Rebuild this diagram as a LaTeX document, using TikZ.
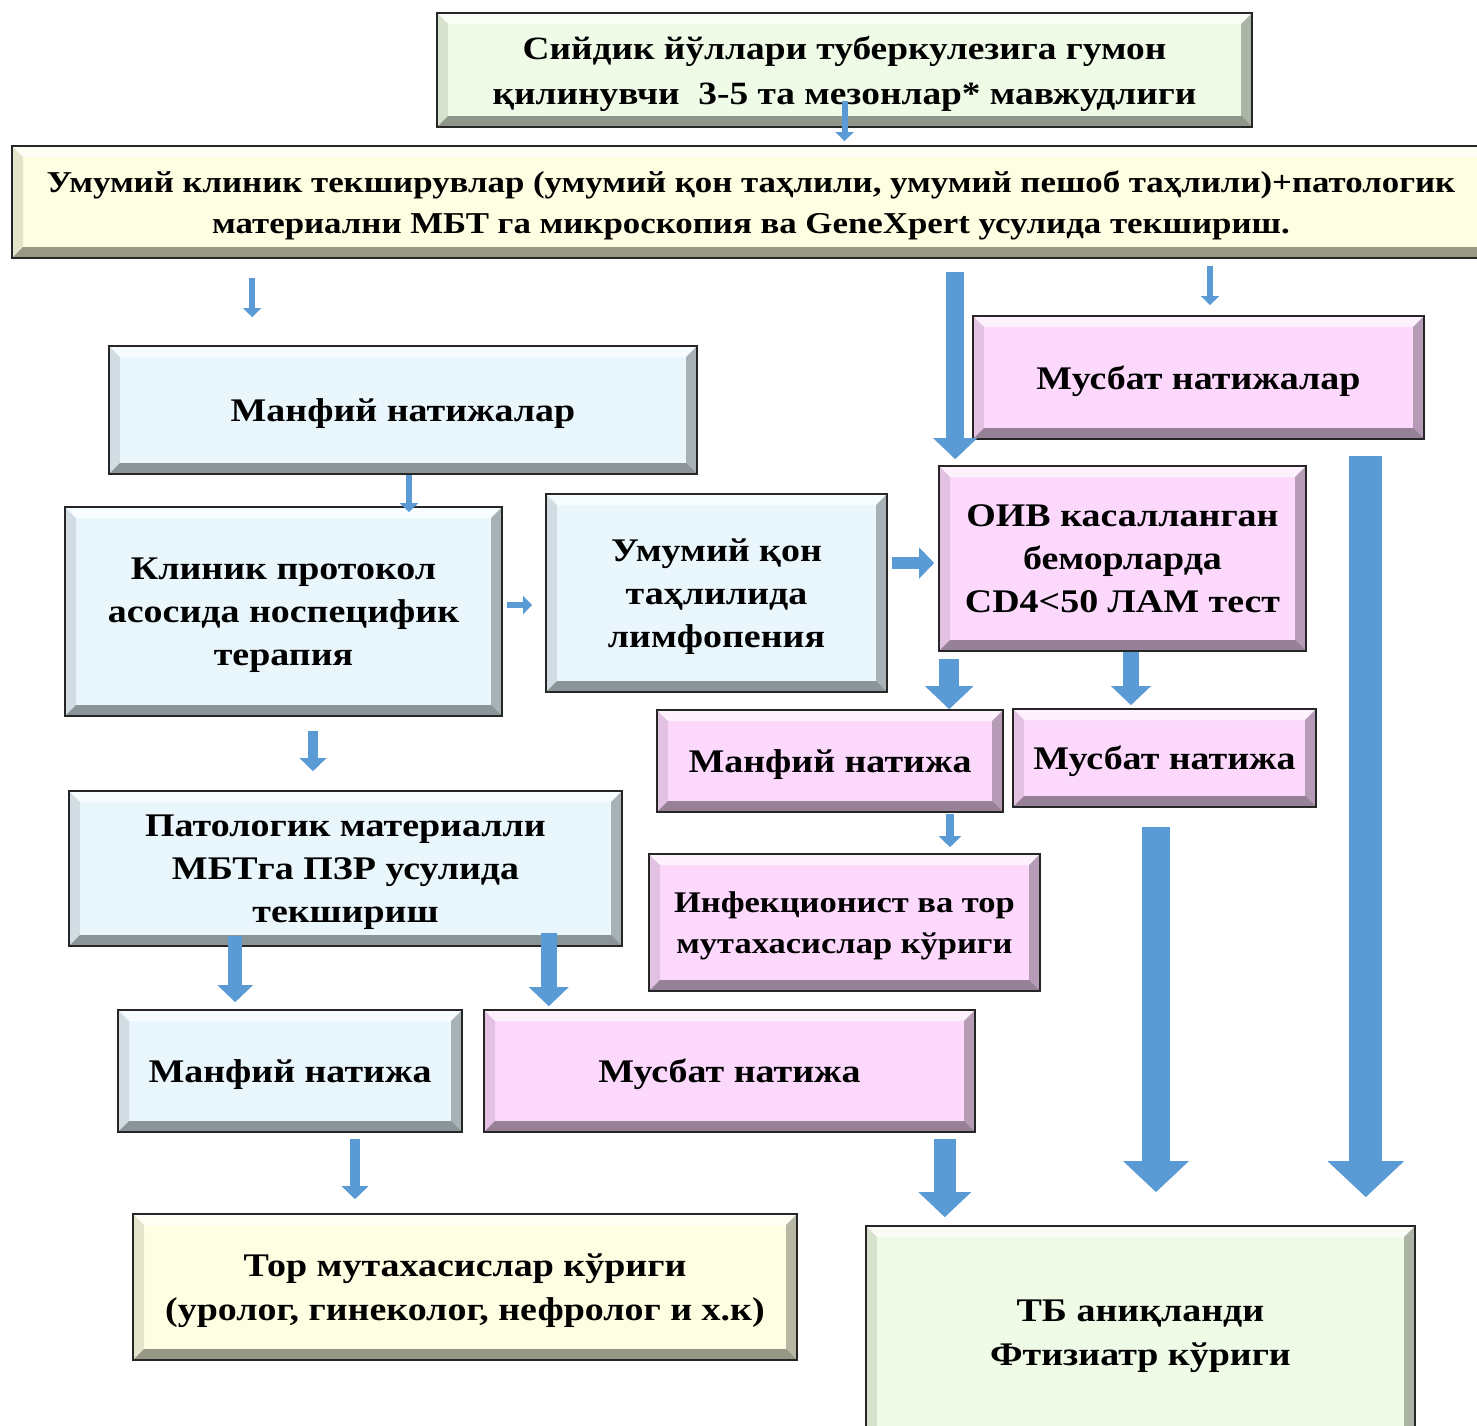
\documentclass[tikz,border=0pt]{standalone}
\usepackage{fontspec}
\setmainfont[FakeStretch=1.15]{Liberation Serif}
\usepackage{tikz}
\usepackage{xcolor}
\usetikzlibrary{
    arrows.meta,
    calc,
    positioning
}
\definecolor{grnfill}{HTML}{EFFBE6}
\definecolor{ylwfill}{HTML}{FEFEE2}
\definecolor{blufill}{HTML}{E9F7FD}
\definecolor{pnkfill}{HTML}{FDD8FD}
\definecolor{arrblue}{HTML}{5B9BD5}
\tikzset{
    bevel/.style={path picture={
        \fill[white, opacity=.65] (path picture bounding box.north west) -- (path picture bounding box.north east) -- ([xshift=-11pt, yshift=-11pt]path picture bounding box.north east) -- ([xshift=11pt, yshift=-11pt]path picture bounding box.north west) -- cycle;
        \fill[black, opacity=.1] (path picture bounding box.north west) -- ([xshift=11pt, yshift=-11pt]path picture bounding box.north west) -- ([xshift=11pt, yshift=11pt]path picture bounding box.south west) -- (path picture bounding box.south west) -- cycle;
        \fill[black, opacity=.28] (path picture bounding box.north east) -- (path picture bounding box.south east) -- ([xshift=-11pt, yshift=11pt]path picture bounding box.south east) -- ([xshift=-11pt, yshift=-11pt]path picture bounding box.north east) -- cycle;
        \fill[black, opacity=.4] (path picture bounding box.south west) -- (path picture bounding box.south east) -- ([xshift=-11pt, yshift=11pt]path picture bounding box.south east) -- ([xshift=11pt, yshift=11pt]path picture bounding box.south west) -- cycle;
    }},
    fs/.style 2 args={font=\bfseries\fontsize{#1}{#2}\selectfont},
    box/.style={draw=black!85, line width=1.6pt, bevel, align=center, inner sep=0pt, text depth=0pt, fs={33}{43}},
    blkarr/.style={draw=arrblue, line width=#1, -{Triangle[width=5pt 2.1, length=3pt 1]}}
}
\begin{document}
\begin{tikzpicture}[x=1pt, y=-1pt]
                        \useasboundingbox (0,0) rectangle (1477,1425);
                        \node[box, fill=grnfill, minimum width=815pt, minimum height=114pt, fs={32.5}{45}] (susp) at (844.5, 70) {Сийдик йўллари туберкулезига гумон\\қилинувчи\ \ 3-5 та мезонлар* мавжудлиги};
                        \node[box, fill=ylwfill, minimum width=1478pt, minimum height=112pt, fs={30.3}{41}] (exam) at (751, 202) {Умумий клиник текширувлар (умумий қон таҳлили, умумий пешоб таҳлили)+патологик\\материални МБТ га микроскопия ва GeneXpert усулида текшириш.};
                        \node[box, fill=blufill, minimum width=588pt, minimum height=128pt] (negall) at (403, 410) {Манфий натижалар};
                        \node[box, fill=pnkfill, minimum width=451pt, minimum height=123pt] (posall) at (1198.5, 377.5) {Мусбат натижалар};
                        \node[box, fill=blufill, minimum width=437pt, minimum height=209pt] (clin) at (283.5, 611.5) {Клиник протокол\\асосида носпецифик\\терапия};
                        \node[box, fill=blufill, minimum width=341pt, minimum height=198pt] (lymph) at (716.5, 593) {Умумий қон\\таҳлилида\\лимфопения};
                        \node[box, fill=pnkfill, minimum width=367pt, minimum height=185pt] (hiv) at (1122.5, 558.5) {ОИВ касалланган\\беморларда\\CD4<50 ЛАМ тест};
                        \node[box, fill=pnkfill, minimum width=346pt, minimum height=102pt] (hivneg) at (830, 761) {Манфий натижа};
                        \node[box, fill=pnkfill, minimum width=303pt, minimum height=98pt] (hivpos) at (1164.5, 758) {Мусбат натижа};
                        \node[box, fill=pnkfill, minimum width=391pt, minimum height=137pt, fs={30}{41}] (infect) at (844.5, 922.5) {Инфекционист ва тор\\мутахасислар кўриги};
                        \node[box, fill=blufill, minimum width=553pt, minimum height=155pt] (pcr) at (345.5, 868.5) {Патологик материалли\\МБТга ПЗР усулида\\текшириш};
                        \node[box, fill=blufill, minimum width=344pt, minimum height=122pt] (pcrneg) at (290, 1071) {Манфий натижа};
                        \node[box, fill=pnkfill, minimum width=491pt, minimum height=122pt] (pcrpos) at (729.5, 1071) {Мусбат натижа};
                        \node[box, fill=ylwfill, minimum width=664pt, minimum height=146pt, fs={33}{44}] (spec) at (465, 1287) {Тор мутахасислар кўриги\\(уролог, гинеколог, нефролог и х.к)};
                        \node[box, fill=grnfill, minimum width=549pt, minimum height=214pt, fs={33}{44}] (tb) at (1140.5, 1333) {ТБ аниқланди\\Фтизиатр кўриги};
                        \draw
                        ($(susp.south)+(0,-27)$) edge[blkarr=6pt] ($(susp.south|-exam.north)+(0,-4)$)
                        ($(negall.north west|-exam.south)+(144,19)$) edge[blkarr=6pt] ($(negall.north west)+(144,-28)$)
                        ($(hiv.north west|-exam.south)+(17,13)$) edge[blkarr=18pt] ($(hiv.north west)+(17,-6)$)
                        ($(posall.north|-exam.south)+(11.5,7)$) edge[blkarr=6pt] ($(posall.north)+(11.5,-10)$)
                        ($(posall.south east)+(-59,16)$) edge[blkarr=33pt] ($(posall.south east|-tb.north)+(-59,-28)$)
                        ($(negall.south)+(6,0)$) edge[blkarr=6pt] ($(negall.south|-clin.north)+(6,6)$)
                        ($(clin.east)+(4,-6.5)$) edge[blkarr=6pt] ($(lymph.west|-clin.east)+(-13,-6.5)$)
                        ($(hiv.west)+(-46,4.5)$) edge[blkarr=12pt] ($(hiv.west)+(-4,4.5)$)
                        ($(hiv.south west)+(11,7)$) edge[blkarr=20pt] ($(hiv.south west|-hivneg.north)+(11,0)$)
                        ($(hiv.south)+(8.5,0)$) edge[blkarr=16pt] ($(hiv.south|-hivpos.north)+(8.5,-3)$)
                        ($(clin.south)+(29.5,14)$) edge[blkarr=10pt] ($(clin.south|-pcr.north)+(29.5,-19)$)
                        ($(hivneg.south)+(120,1)$) edge[blkarr=8pt] ($(hivneg.south|-infect.north)+(120,-6)$)
                        ($(hivpos.south)+(-8.5,19)$) edge[blkarr=28pt] ($(hivpos.south|-tb.north)+(-8.5,-33)$)
                        ($(pcr.south west)+(167,-11)$) edge[blkarr=14pt] ($(pcr.south west|-pcrneg.north)+(167,-7)$)
                        ($(pcr.south east)+(-74,-14)$) edge[blkarr=16pt] ($(pcr.south east|-pcrpos.north)+(-74,-3)$)
                        ($(pcrneg.south)+(65,6)$) edge[blkarr=10pt] ($(pcrneg.south|-spec.north)+(65,-14)$)
                        ($(pcrpos.south east)+(-31,6)$) edge[blkarr=22pt] ($(pcrpos.south east|-tb.north)+(-31,-8)$);
                    \end{tikzpicture}
\end{document}
